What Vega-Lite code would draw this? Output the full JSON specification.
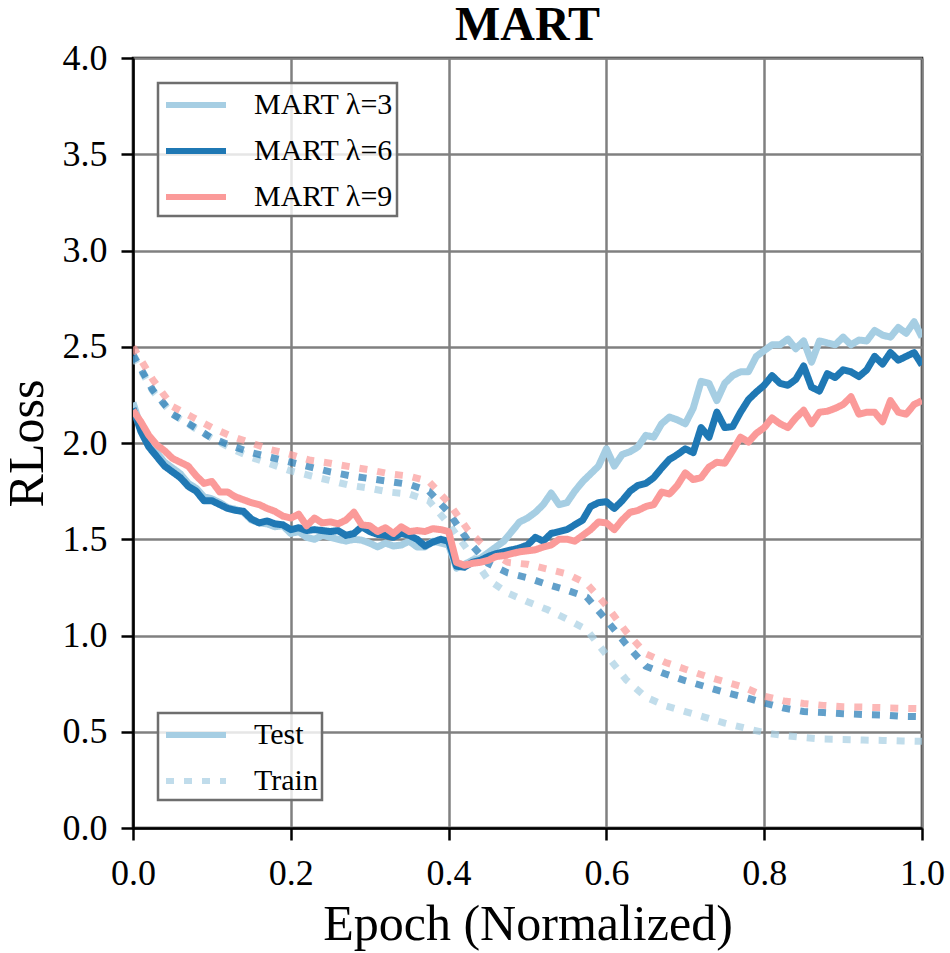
{
  "$schema": "https://vega.github.io/schema/vega-lite/v6.json",
  "width": 789,
  "height": 770,
  "autosize": {"type": "none"},
  "padding": {"left": 133, "top": 58, "right": 28, "bottom": 125},
  "background": "white",
  "config": {
    "font": "Liberation Serif",
    "view": {"stroke": "black", "strokeWidth": 2.5},
    "axis": {
      "domainColor": "black", "domainWidth": 2.5,
      "tickColor": "black", "tickWidth": 2.5, "tickSize": 12,
      "gridColor": "#808080", "gridWidth": 2.5, "gridOpacity": 1,
      "labelFont": "Liberation Serif", "labelFontSize": 36, "labelColor": "black",
      "titleFont": "Liberation Serif", "titleFontSize": 50, "titleFontWeight": "normal", "titleColor": "black"
    },
    "legend": {
      "labelFont": "Liberation Serif", "labelFontSize": 30, "labelColor": "black",
      "symbolType": "M-2,0H2", "symbolSize": 900, "symbolStrokeWidth": 6, "symbolOffset": 16,
      "fillColor": "rgba(255,255,255,0.8)", "strokeColor": "#6e6e6e", "strokeWidth": 2.5,
      "padding": 4, "labelOffset": 40, "rowPadding": 13, "cornerRadius": 0
    }
  },
  "title": {"text": "MART", "fontSize": 48, "fontWeight": "bold", "font": "Liberation Serif", "color": "black", "anchor": "middle", "offset": -10},
  "data": {"values": [
    {"model":"MART λ=3","split":"Train","epoch":0,"loss":2.45},{"model":"MART λ=3","split":"Train","epoch":0.025,"loss":2.27},{"model":"MART λ=3","split":"Train","epoch":0.05,"loss":2.15},{"model":"MART λ=3","split":"Train","epoch":0.075,"loss":2.085},{"model":"MART λ=3","split":"Train","epoch":0.1,"loss":2.025},{"model":"MART λ=3","split":"Train","epoch":0.125,"loss":1.97},{"model":"MART λ=3","split":"Train","epoch":0.15,"loss":1.925},{"model":"MART λ=3","split":"Train","epoch":0.175,"loss":1.89},{"model":"MART λ=3","split":"Train","epoch":0.2,"loss":1.855},{"model":"MART λ=3","split":"Train","epoch":0.225,"loss":1.83},{"model":"MART λ=3","split":"Train","epoch":0.25,"loss":1.805},{"model":"MART λ=3","split":"Train","epoch":0.275,"loss":1.78},{"model":"MART λ=3","split":"Train","epoch":0.3,"loss":1.765},{"model":"MART λ=3","split":"Train","epoch":0.325,"loss":1.745},{"model":"MART λ=3","split":"Train","epoch":0.35,"loss":1.735},{"model":"MART λ=3","split":"Train","epoch":0.375,"loss":1.7},{"model":"MART λ=3","split":"Train","epoch":0.4,"loss":1.58},{"model":"MART λ=3","split":"Train","epoch":0.425,"loss":1.44},{"model":"MART λ=3","split":"Train","epoch":0.45,"loss":1.29},{"model":"MART λ=3","split":"Train","epoch":0.475,"loss":1.22},{"model":"MART λ=3","split":"Train","epoch":0.5,"loss":1.175},{"model":"MART λ=3","split":"Train","epoch":0.525,"loss":1.135},{"model":"MART λ=3","split":"Train","epoch":0.55,"loss":1.085},{"model":"MART λ=3","split":"Train","epoch":0.575,"loss":1.03},{"model":"MART λ=3","split":"Train","epoch":0.6,"loss":0.9},{"model":"MART λ=3","split":"Train","epoch":0.625,"loss":0.77},{"model":"MART λ=3","split":"Train","epoch":0.65,"loss":0.68},{"model":"MART λ=3","split":"Train","epoch":0.675,"loss":0.635},{"model":"MART λ=3","split":"Train","epoch":0.7,"loss":0.605},{"model":"MART λ=3","split":"Train","epoch":0.725,"loss":0.575},{"model":"MART λ=3","split":"Train","epoch":0.75,"loss":0.545},{"model":"MART λ=3","split":"Train","epoch":0.775,"loss":0.52},{"model":"MART λ=3","split":"Train","epoch":0.8,"loss":0.495},{"model":"MART λ=3","split":"Train","epoch":0.825,"loss":0.48},{"model":"MART λ=3","split":"Train","epoch":0.85,"loss":0.47},{"model":"MART λ=3","split":"Train","epoch":0.875,"loss":0.462},{"model":"MART λ=3","split":"Train","epoch":0.9,"loss":0.46},{"model":"MART λ=3","split":"Train","epoch":0.925,"loss":0.457},{"model":"MART λ=3","split":"Train","epoch":0.95,"loss":0.455},{"model":"MART λ=3","split":"Train","epoch":0.975,"loss":0.452},{"model":"MART λ=3","split":"Train","epoch":1,"loss":0.45},
    {"model":"MART λ=6","split":"Train","epoch":0,"loss":2.46},{"model":"MART λ=6","split":"Train","epoch":0.025,"loss":2.275},{"model":"MART λ=6","split":"Train","epoch":0.05,"loss":2.15},{"model":"MART λ=6","split":"Train","epoch":0.075,"loss":2.09},{"model":"MART λ=6","split":"Train","epoch":0.1,"loss":2.025},{"model":"MART λ=6","split":"Train","epoch":0.125,"loss":1.985},{"model":"MART λ=6","split":"Train","epoch":0.15,"loss":1.95},{"model":"MART λ=6","split":"Train","epoch":0.175,"loss":1.925},{"model":"MART λ=6","split":"Train","epoch":0.2,"loss":1.9},{"model":"MART λ=6","split":"Train","epoch":0.225,"loss":1.875},{"model":"MART λ=6","split":"Train","epoch":0.25,"loss":1.85},{"model":"MART λ=6","split":"Train","epoch":0.275,"loss":1.83},{"model":"MART λ=6","split":"Train","epoch":0.3,"loss":1.815},{"model":"MART λ=6","split":"Train","epoch":0.325,"loss":1.8},{"model":"MART λ=6","split":"Train","epoch":0.35,"loss":1.785},{"model":"MART λ=6","split":"Train","epoch":0.375,"loss":1.75},{"model":"MART λ=6","split":"Train","epoch":0.4,"loss":1.64},{"model":"MART λ=6","split":"Train","epoch":0.425,"loss":1.49},{"model":"MART λ=6","split":"Train","epoch":0.45,"loss":1.375},{"model":"MART λ=6","split":"Train","epoch":0.475,"loss":1.325},{"model":"MART λ=6","split":"Train","epoch":0.5,"loss":1.3},{"model":"MART λ=6","split":"Train","epoch":0.525,"loss":1.265},{"model":"MART λ=6","split":"Train","epoch":0.55,"loss":1.235},{"model":"MART λ=6","split":"Train","epoch":0.575,"loss":1.2},{"model":"MART λ=6","split":"Train","epoch":0.6,"loss":1.08},{"model":"MART λ=6","split":"Train","epoch":0.625,"loss":0.955},{"model":"MART λ=6","split":"Train","epoch":0.65,"loss":0.84},{"model":"MART λ=6","split":"Train","epoch":0.675,"loss":0.8},{"model":"MART λ=6","split":"Train","epoch":0.7,"loss":0.765},{"model":"MART λ=6","split":"Train","epoch":0.725,"loss":0.735},{"model":"MART λ=6","split":"Train","epoch":0.75,"loss":0.705},{"model":"MART λ=6","split":"Train","epoch":0.775,"loss":0.68},{"model":"MART λ=6","split":"Train","epoch":0.8,"loss":0.65},{"model":"MART λ=6","split":"Train","epoch":0.825,"loss":0.623},{"model":"MART λ=6","split":"Train","epoch":0.85,"loss":0.605},{"model":"MART λ=6","split":"Train","epoch":0.875,"loss":0.6},{"model":"MART λ=6","split":"Train","epoch":0.9,"loss":0.594},{"model":"MART λ=6","split":"Train","epoch":0.925,"loss":0.59},{"model":"MART λ=6","split":"Train","epoch":0.95,"loss":0.587},{"model":"MART λ=6","split":"Train","epoch":0.975,"loss":0.58},{"model":"MART λ=6","split":"Train","epoch":1,"loss":0.578},
    {"model":"MART λ=9","split":"Train","epoch":0,"loss":2.5},{"model":"MART λ=9","split":"Train","epoch":0.025,"loss":2.33},{"model":"MART λ=9","split":"Train","epoch":0.05,"loss":2.19},{"model":"MART λ=9","split":"Train","epoch":0.075,"loss":2.135},{"model":"MART λ=9","split":"Train","epoch":0.1,"loss":2.08},{"model":"MART λ=9","split":"Train","epoch":0.125,"loss":2.035},{"model":"MART λ=9","split":"Train","epoch":0.15,"loss":2.0},{"model":"MART λ=9","split":"Train","epoch":0.175,"loss":1.965},{"model":"MART λ=9","split":"Train","epoch":0.2,"loss":1.94},{"model":"MART λ=9","split":"Train","epoch":0.225,"loss":1.91},{"model":"MART λ=9","split":"Train","epoch":0.25,"loss":1.895},{"model":"MART λ=9","split":"Train","epoch":0.275,"loss":1.877},{"model":"MART λ=9","split":"Train","epoch":0.3,"loss":1.86},{"model":"MART λ=9","split":"Train","epoch":0.325,"loss":1.84},{"model":"MART λ=9","split":"Train","epoch":0.35,"loss":1.828},{"model":"MART λ=9","split":"Train","epoch":0.375,"loss":1.8},{"model":"MART λ=9","split":"Train","epoch":0.4,"loss":1.69},{"model":"MART λ=9","split":"Train","epoch":0.425,"loss":1.545},{"model":"MART λ=9","split":"Train","epoch":0.45,"loss":1.445},{"model":"MART λ=9","split":"Train","epoch":0.475,"loss":1.38},{"model":"MART λ=9","split":"Train","epoch":0.5,"loss":1.37},{"model":"MART λ=9","split":"Train","epoch":0.525,"loss":1.345},{"model":"MART λ=9","split":"Train","epoch":0.55,"loss":1.32},{"model":"MART λ=9","split":"Train","epoch":0.575,"loss":1.27},{"model":"MART λ=9","split":"Train","epoch":0.6,"loss":1.155},{"model":"MART λ=9","split":"Train","epoch":0.625,"loss":1.02},{"model":"MART λ=9","split":"Train","epoch":0.65,"loss":0.905},{"model":"MART λ=9","split":"Train","epoch":0.675,"loss":0.86},{"model":"MART λ=9","split":"Train","epoch":0.7,"loss":0.825},{"model":"MART λ=9","split":"Train","epoch":0.725,"loss":0.79},{"model":"MART λ=9","split":"Train","epoch":0.75,"loss":0.76},{"model":"MART λ=9","split":"Train","epoch":0.775,"loss":0.73},{"model":"MART λ=9","split":"Train","epoch":0.8,"loss":0.685},{"model":"MART λ=9","split":"Train","epoch":0.825,"loss":0.66},{"model":"MART λ=9","split":"Train","epoch":0.85,"loss":0.647},{"model":"MART λ=9","split":"Train","epoch":0.875,"loss":0.637},{"model":"MART λ=9","split":"Train","epoch":0.9,"loss":0.63},{"model":"MART λ=9","split":"Train","epoch":0.925,"loss":0.628},{"model":"MART λ=9","split":"Train","epoch":0.95,"loss":0.625},{"model":"MART λ=9","split":"Train","epoch":0.975,"loss":0.622},{"model":"MART λ=9","split":"Train","epoch":1,"loss":0.62},
    {"model":"MART λ=3","split":"Test","epoch":0,"loss":2.21},{"model":"MART λ=3","split":"Test","epoch":0.01,"loss":2.08},{"model":"MART λ=3","split":"Test","epoch":0.02,"loss":2.0},{"model":"MART λ=3","split":"Test","epoch":0.03,"loss":1.95},{"model":"MART λ=3","split":"Test","epoch":0.04,"loss":1.9},{"model":"MART λ=3","split":"Test","epoch":0.05,"loss":1.87},{"model":"MART λ=3","split":"Test","epoch":0.06,"loss":1.84},{"model":"MART λ=3","split":"Test","epoch":0.07,"loss":1.79},{"model":"MART λ=3","split":"Test","epoch":0.08,"loss":1.765},{"model":"MART λ=3","split":"Test","epoch":0.09,"loss":1.72},
    {"model":"MART λ=3","split":"Test","epoch":0.1,"loss":1.71},{"model":"MART λ=3","split":"Test","epoch":0.11,"loss":1.69},{"model":"MART λ=3","split":"Test","epoch":0.12,"loss":1.665},{"model":"MART λ=3","split":"Test","epoch":0.13,"loss":1.655},{"model":"MART λ=3","split":"Test","epoch":0.14,"loss":1.64},{"model":"MART λ=3","split":"Test","epoch":0.15,"loss":1.6},{"model":"MART λ=3","split":"Test","epoch":0.16,"loss":1.585},{"model":"MART λ=3","split":"Test","epoch":0.17,"loss":1.58},{"model":"MART λ=3","split":"Test","epoch":0.18,"loss":1.565},{"model":"MART λ=3","split":"Test","epoch":0.19,"loss":1.57},
    {"model":"MART λ=3","split":"Test","epoch":0.2,"loss":1.53},{"model":"MART λ=3","split":"Test","epoch":0.21,"loss":1.54},{"model":"MART λ=3","split":"Test","epoch":0.22,"loss":1.51},{"model":"MART λ=3","split":"Test","epoch":0.23,"loss":1.5},{"model":"MART λ=3","split":"Test","epoch":0.24,"loss":1.52},{"model":"MART λ=3","split":"Test","epoch":0.25,"loss":1.51},{"model":"MART λ=3","split":"Test","epoch":0.26,"loss":1.5},{"model":"MART λ=3","split":"Test","epoch":0.27,"loss":1.49},{"model":"MART λ=3","split":"Test","epoch":0.28,"loss":1.5},{"model":"MART λ=3","split":"Test","epoch":0.29,"loss":1.495},
    {"model":"MART λ=3","split":"Test","epoch":0.3,"loss":1.48},{"model":"MART λ=3","split":"Test","epoch":0.31,"loss":1.46},{"model":"MART λ=3","split":"Test","epoch":0.32,"loss":1.48},{"model":"MART λ=3","split":"Test","epoch":0.33,"loss":1.465},{"model":"MART λ=3","split":"Test","epoch":0.34,"loss":1.47},{"model":"MART λ=3","split":"Test","epoch":0.35,"loss":1.49},{"model":"MART λ=3","split":"Test","epoch":0.36,"loss":1.46},{"model":"MART λ=3","split":"Test","epoch":0.37,"loss":1.46},{"model":"MART λ=3","split":"Test","epoch":0.38,"loss":1.49},{"model":"MART λ=3","split":"Test","epoch":0.39,"loss":1.48},
    {"model":"MART λ=3","split":"Test","epoch":0.4,"loss":1.47},{"model":"MART λ=3","split":"Test","epoch":0.41,"loss":1.35},{"model":"MART λ=3","split":"Test","epoch":0.42,"loss":1.37},{"model":"MART λ=3","split":"Test","epoch":0.43,"loss":1.39},{"model":"MART λ=3","split":"Test","epoch":0.44,"loss":1.4},{"model":"MART λ=3","split":"Test","epoch":0.45,"loss":1.43},{"model":"MART λ=3","split":"Test","epoch":0.46,"loss":1.46},{"model":"MART λ=3","split":"Test","epoch":0.47,"loss":1.49},{"model":"MART λ=3","split":"Test","epoch":0.48,"loss":1.54},{"model":"MART λ=3","split":"Test","epoch":0.49,"loss":1.59},
    {"model":"MART λ=3","split":"Test","epoch":0.5,"loss":1.61},{"model":"MART λ=3","split":"Test","epoch":0.51,"loss":1.64},{"model":"MART λ=3","split":"Test","epoch":0.52,"loss":1.68},{"model":"MART λ=3","split":"Test","epoch":0.53,"loss":1.74},{"model":"MART λ=3","split":"Test","epoch":0.54,"loss":1.68},{"model":"MART λ=3","split":"Test","epoch":0.55,"loss":1.69},{"model":"MART λ=3","split":"Test","epoch":0.56,"loss":1.75},{"model":"MART λ=3","split":"Test","epoch":0.57,"loss":1.8},{"model":"MART λ=3","split":"Test","epoch":0.58,"loss":1.84},{"model":"MART λ=3","split":"Test","epoch":0.59,"loss":1.88},
    {"model":"MART λ=3","split":"Test","epoch":0.6,"loss":1.97},{"model":"MART λ=3","split":"Test","epoch":0.61,"loss":1.88},{"model":"MART λ=3","split":"Test","epoch":0.62,"loss":1.94},{"model":"MART λ=3","split":"Test","epoch":0.63,"loss":1.955},{"model":"MART λ=3","split":"Test","epoch":0.64,"loss":1.98},{"model":"MART λ=3","split":"Test","epoch":0.65,"loss":2.04},{"model":"MART λ=3","split":"Test","epoch":0.66,"loss":2.03},{"model":"MART λ=3","split":"Test","epoch":0.67,"loss":2.1},{"model":"MART λ=3","split":"Test","epoch":0.68,"loss":2.135},{"model":"MART λ=3","split":"Test","epoch":0.69,"loss":2.12},
    {"model":"MART λ=3","split":"Test","epoch":0.7,"loss":2.1},{"model":"MART λ=3","split":"Test","epoch":0.71,"loss":2.18},{"model":"MART λ=3","split":"Test","epoch":0.72,"loss":2.32},{"model":"MART λ=3","split":"Test","epoch":0.73,"loss":2.31},{"model":"MART λ=3","split":"Test","epoch":0.74,"loss":2.22},{"model":"MART λ=3","split":"Test","epoch":0.75,"loss":2.31},{"model":"MART λ=3","split":"Test","epoch":0.76,"loss":2.35},{"model":"MART λ=3","split":"Test","epoch":0.77,"loss":2.37},{"model":"MART λ=3","split":"Test","epoch":0.78,"loss":2.37},{"model":"MART λ=3","split":"Test","epoch":0.79,"loss":2.45},
    {"model":"MART λ=3","split":"Test","epoch":0.8,"loss":2.48},{"model":"MART λ=3","split":"Test","epoch":0.81,"loss":2.51},{"model":"MART λ=3","split":"Test","epoch":0.82,"loss":2.51},{"model":"MART λ=3","split":"Test","epoch":0.83,"loss":2.54},{"model":"MART λ=3","split":"Test","epoch":0.84,"loss":2.49},{"model":"MART λ=3","split":"Test","epoch":0.85,"loss":2.53},{"model":"MART λ=3","split":"Test","epoch":0.86,"loss":2.42},{"model":"MART λ=3","split":"Test","epoch":0.87,"loss":2.53},{"model":"MART λ=3","split":"Test","epoch":0.88,"loss":2.52},{"model":"MART λ=3","split":"Test","epoch":0.89,"loss":2.51},
    {"model":"MART λ=3","split":"Test","epoch":0.9,"loss":2.55},{"model":"MART λ=3","split":"Test","epoch":0.91,"loss":2.51},{"model":"MART λ=3","split":"Test","epoch":0.92,"loss":2.535},{"model":"MART λ=3","split":"Test","epoch":0.93,"loss":2.53},{"model":"MART λ=3","split":"Test","epoch":0.94,"loss":2.585},{"model":"MART λ=3","split":"Test","epoch":0.95,"loss":2.56},{"model":"MART λ=3","split":"Test","epoch":0.96,"loss":2.55},{"model":"MART λ=3","split":"Test","epoch":0.97,"loss":2.6},{"model":"MART λ=3","split":"Test","epoch":0.98,"loss":2.57},{"model":"MART λ=3","split":"Test","epoch":0.99,"loss":2.63},{"model":"MART λ=3","split":"Test","epoch":1,"loss":2.55},
    {"model":"MART λ=6","split":"Test","epoch":0,"loss":2.18},{"model":"MART λ=6","split":"Test","epoch":0.01,"loss":2.06},{"model":"MART λ=6","split":"Test","epoch":0.02,"loss":1.98},{"model":"MART λ=6","split":"Test","epoch":0.03,"loss":1.93},{"model":"MART λ=6","split":"Test","epoch":0.04,"loss":1.88},{"model":"MART λ=6","split":"Test","epoch":0.05,"loss":1.85},{"model":"MART λ=6","split":"Test","epoch":0.06,"loss":1.82},{"model":"MART λ=6","split":"Test","epoch":0.07,"loss":1.775},{"model":"MART λ=6","split":"Test","epoch":0.08,"loss":1.75},{"model":"MART λ=6","split":"Test","epoch":0.09,"loss":1.7},
    {"model":"MART λ=6","split":"Test","epoch":0.1,"loss":1.7},{"model":"MART λ=6","split":"Test","epoch":0.11,"loss":1.68},{"model":"MART λ=6","split":"Test","epoch":0.12,"loss":1.66},{"model":"MART λ=6","split":"Test","epoch":0.13,"loss":1.65},{"model":"MART λ=6","split":"Test","epoch":0.14,"loss":1.645},{"model":"MART λ=6","split":"Test","epoch":0.15,"loss":1.605},{"model":"MART λ=6","split":"Test","epoch":0.16,"loss":1.585},{"model":"MART λ=6","split":"Test","epoch":0.17,"loss":1.595},{"model":"MART λ=6","split":"Test","epoch":0.18,"loss":1.58},{"model":"MART λ=6","split":"Test","epoch":0.19,"loss":1.575},
    {"model":"MART λ=6","split":"Test","epoch":0.2,"loss":1.55},{"model":"MART λ=6","split":"Test","epoch":0.21,"loss":1.56},{"model":"MART λ=6","split":"Test","epoch":0.22,"loss":1.545},{"model":"MART λ=6","split":"Test","epoch":0.23,"loss":1.55},{"model":"MART λ=6","split":"Test","epoch":0.24,"loss":1.545},{"model":"MART λ=6","split":"Test","epoch":0.25,"loss":1.54},{"model":"MART λ=6","split":"Test","epoch":0.26,"loss":1.545},{"model":"MART λ=6","split":"Test","epoch":0.27,"loss":1.52},{"model":"MART λ=6","split":"Test","epoch":0.28,"loss":1.53},{"model":"MART λ=6","split":"Test","epoch":0.29,"loss":1.565},
    {"model":"MART λ=6","split":"Test","epoch":0.3,"loss":1.54},{"model":"MART λ=6","split":"Test","epoch":0.31,"loss":1.525},{"model":"MART λ=6","split":"Test","epoch":0.32,"loss":1.52},{"model":"MART λ=6","split":"Test","epoch":0.33,"loss":1.51},{"model":"MART λ=6","split":"Test","epoch":0.34,"loss":1.53},{"model":"MART λ=6","split":"Test","epoch":0.35,"loss":1.52},{"model":"MART λ=6","split":"Test","epoch":0.36,"loss":1.5},{"model":"MART λ=6","split":"Test","epoch":0.37,"loss":1.465},{"model":"MART λ=6","split":"Test","epoch":0.38,"loss":1.485},{"model":"MART λ=6","split":"Test","epoch":0.39,"loss":1.5},
    {"model":"MART λ=6","split":"Test","epoch":0.4,"loss":1.49},{"model":"MART λ=6","split":"Test","epoch":0.41,"loss":1.36},{"model":"MART λ=6","split":"Test","epoch":0.42,"loss":1.355},{"model":"MART λ=6","split":"Test","epoch":0.43,"loss":1.38},{"model":"MART λ=6","split":"Test","epoch":0.44,"loss":1.39},{"model":"MART λ=6","split":"Test","epoch":0.45,"loss":1.41},{"model":"MART λ=6","split":"Test","epoch":0.46,"loss":1.425},{"model":"MART λ=6","split":"Test","epoch":0.47,"loss":1.435},{"model":"MART λ=6","split":"Test","epoch":0.48,"loss":1.445},{"model":"MART λ=6","split":"Test","epoch":0.49,"loss":1.455},
    {"model":"MART λ=6","split":"Test","epoch":0.5,"loss":1.47},{"model":"MART λ=6","split":"Test","epoch":0.51,"loss":1.51},{"model":"MART λ=6","split":"Test","epoch":0.52,"loss":1.49},{"model":"MART λ=6","split":"Test","epoch":0.53,"loss":1.53},{"model":"MART λ=6","split":"Test","epoch":0.54,"loss":1.54},{"model":"MART λ=6","split":"Test","epoch":0.55,"loss":1.55},{"model":"MART λ=6","split":"Test","epoch":0.56,"loss":1.575},{"model":"MART λ=6","split":"Test","epoch":0.57,"loss":1.6},{"model":"MART λ=6","split":"Test","epoch":0.58,"loss":1.67},{"model":"MART λ=6","split":"Test","epoch":0.59,"loss":1.69},
    {"model":"MART λ=6","split":"Test","epoch":0.6,"loss":1.695},{"model":"MART λ=6","split":"Test","epoch":0.61,"loss":1.66},{"model":"MART λ=6","split":"Test","epoch":0.62,"loss":1.7},{"model":"MART λ=6","split":"Test","epoch":0.63,"loss":1.75},{"model":"MART λ=6","split":"Test","epoch":0.64,"loss":1.78},{"model":"MART λ=6","split":"Test","epoch":0.65,"loss":1.79},{"model":"MART λ=6","split":"Test","epoch":0.66,"loss":1.82},{"model":"MART λ=6","split":"Test","epoch":0.67,"loss":1.87},{"model":"MART λ=6","split":"Test","epoch":0.68,"loss":1.915},{"model":"MART λ=6","split":"Test","epoch":0.69,"loss":1.94},
    {"model":"MART λ=6","split":"Test","epoch":0.7,"loss":1.97},{"model":"MART λ=6","split":"Test","epoch":0.71,"loss":1.95},{"model":"MART λ=6","split":"Test","epoch":0.72,"loss":2.08},{"model":"MART λ=6","split":"Test","epoch":0.73,"loss":2.03},{"model":"MART λ=6","split":"Test","epoch":0.74,"loss":2.16},{"model":"MART λ=6","split":"Test","epoch":0.75,"loss":2.08},{"model":"MART λ=6","split":"Test","epoch":0.76,"loss":2.085},{"model":"MART λ=6","split":"Test","epoch":0.77,"loss":2.16},{"model":"MART λ=6","split":"Test","epoch":0.78,"loss":2.225},{"model":"MART λ=6","split":"Test","epoch":0.79,"loss":2.265},
    {"model":"MART λ=6","split":"Test","epoch":0.8,"loss":2.3},{"model":"MART λ=6","split":"Test","epoch":0.81,"loss":2.35},{"model":"MART λ=6","split":"Test","epoch":0.82,"loss":2.31},{"model":"MART λ=6","split":"Test","epoch":0.83,"loss":2.3},{"model":"MART λ=6","split":"Test","epoch":0.84,"loss":2.33},{"model":"MART λ=6","split":"Test","epoch":0.85,"loss":2.4},{"model":"MART λ=6","split":"Test","epoch":0.86,"loss":2.29},{"model":"MART λ=6","split":"Test","epoch":0.87,"loss":2.27},{"model":"MART λ=6","split":"Test","epoch":0.88,"loss":2.36},{"model":"MART λ=6","split":"Test","epoch":0.89,"loss":2.34},
    {"model":"MART λ=6","split":"Test","epoch":0.9,"loss":2.38},{"model":"MART λ=6","split":"Test","epoch":0.91,"loss":2.37},{"model":"MART λ=6","split":"Test","epoch":0.92,"loss":2.345},{"model":"MART λ=6","split":"Test","epoch":0.93,"loss":2.38},{"model":"MART λ=6","split":"Test","epoch":0.94,"loss":2.45},{"model":"MART λ=6","split":"Test","epoch":0.95,"loss":2.41},{"model":"MART λ=6","split":"Test","epoch":0.96,"loss":2.47},{"model":"MART λ=6","split":"Test","epoch":0.97,"loss":2.43},{"model":"MART λ=6","split":"Test","epoch":0.98,"loss":2.45},{"model":"MART λ=6","split":"Test","epoch":0.99,"loss":2.47},{"model":"MART λ=6","split":"Test","epoch":1,"loss":2.405},
    {"model":"MART λ=9","split":"Test","epoch":0,"loss":2.17},{"model":"MART λ=9","split":"Test","epoch":0.01,"loss":2.11},{"model":"MART λ=9","split":"Test","epoch":0.02,"loss":2.04},{"model":"MART λ=9","split":"Test","epoch":0.03,"loss":1.99},{"model":"MART λ=9","split":"Test","epoch":0.04,"loss":1.96},{"model":"MART λ=9","split":"Test","epoch":0.05,"loss":1.92},{"model":"MART λ=9","split":"Test","epoch":0.06,"loss":1.9},{"model":"MART λ=9","split":"Test","epoch":0.07,"loss":1.88},{"model":"MART λ=9","split":"Test","epoch":0.08,"loss":1.83},{"model":"MART λ=9","split":"Test","epoch":0.09,"loss":1.79},
    {"model":"MART λ=9","split":"Test","epoch":0.1,"loss":1.8},{"model":"MART λ=9","split":"Test","epoch":0.11,"loss":1.745},{"model":"MART λ=9","split":"Test","epoch":0.12,"loss":1.745},{"model":"MART λ=9","split":"Test","epoch":0.13,"loss":1.72},{"model":"MART λ=9","split":"Test","epoch":0.14,"loss":1.705},{"model":"MART λ=9","split":"Test","epoch":0.15,"loss":1.69},{"model":"MART λ=9","split":"Test","epoch":0.16,"loss":1.68},{"model":"MART λ=9","split":"Test","epoch":0.17,"loss":1.66},{"model":"MART λ=9","split":"Test","epoch":0.18,"loss":1.645},{"model":"MART λ=9","split":"Test","epoch":0.19,"loss":1.62},
    {"model":"MART λ=9","split":"Test","epoch":0.2,"loss":1.61},{"model":"MART λ=9","split":"Test","epoch":0.21,"loss":1.63},{"model":"MART λ=9","split":"Test","epoch":0.22,"loss":1.57},{"model":"MART λ=9","split":"Test","epoch":0.23,"loss":1.61},{"model":"MART λ=9","split":"Test","epoch":0.24,"loss":1.585},{"model":"MART λ=9","split":"Test","epoch":0.25,"loss":1.59},{"model":"MART λ=9","split":"Test","epoch":0.26,"loss":1.58},{"model":"MART λ=9","split":"Test","epoch":0.27,"loss":1.6},{"model":"MART λ=9","split":"Test","epoch":0.28,"loss":1.64},{"model":"MART λ=9","split":"Test","epoch":0.29,"loss":1.575},
    {"model":"MART λ=9","split":"Test","epoch":0.3,"loss":1.57},{"model":"MART λ=9","split":"Test","epoch":0.31,"loss":1.54},{"model":"MART λ=9","split":"Test","epoch":0.32,"loss":1.56},{"model":"MART λ=9","split":"Test","epoch":0.33,"loss":1.53},{"model":"MART λ=9","split":"Test","epoch":0.34,"loss":1.565},{"model":"MART λ=9","split":"Test","epoch":0.35,"loss":1.54},{"model":"MART λ=9","split":"Test","epoch":0.36,"loss":1.545},{"model":"MART λ=9","split":"Test","epoch":0.37,"loss":1.54},{"model":"MART λ=9","split":"Test","epoch":0.38,"loss":1.555},{"model":"MART λ=9","split":"Test","epoch":0.39,"loss":1.55},
    {"model":"MART λ=9","split":"Test","epoch":0.4,"loss":1.54},{"model":"MART λ=9","split":"Test","epoch":0.41,"loss":1.38},{"model":"MART λ=9","split":"Test","epoch":0.42,"loss":1.365},{"model":"MART λ=9","split":"Test","epoch":0.43,"loss":1.375},{"model":"MART λ=9","split":"Test","epoch":0.44,"loss":1.38},{"model":"MART λ=9","split":"Test","epoch":0.45,"loss":1.39},{"model":"MART λ=9","split":"Test","epoch":0.46,"loss":1.41},{"model":"MART λ=9","split":"Test","epoch":0.47,"loss":1.415},{"model":"MART λ=9","split":"Test","epoch":0.48,"loss":1.425},{"model":"MART λ=9","split":"Test","epoch":0.49,"loss":1.435},
    {"model":"MART λ=9","split":"Test","epoch":0.5,"loss":1.44},{"model":"MART λ=9","split":"Test","epoch":0.51,"loss":1.445},{"model":"MART λ=9","split":"Test","epoch":0.52,"loss":1.46},{"model":"MART λ=9","split":"Test","epoch":0.53,"loss":1.47},{"model":"MART λ=9","split":"Test","epoch":0.54,"loss":1.5},{"model":"MART λ=9","split":"Test","epoch":0.55,"loss":1.5},{"model":"MART λ=9","split":"Test","epoch":0.56,"loss":1.49},{"model":"MART λ=9","split":"Test","epoch":0.57,"loss":1.52},{"model":"MART λ=9","split":"Test","epoch":0.58,"loss":1.55},{"model":"MART λ=9","split":"Test","epoch":0.59,"loss":1.59},
    {"model":"MART λ=9","split":"Test","epoch":0.6,"loss":1.585},{"model":"MART λ=9","split":"Test","epoch":0.61,"loss":1.55},{"model":"MART λ=9","split":"Test","epoch":0.62,"loss":1.6},{"model":"MART λ=9","split":"Test","epoch":0.63,"loss":1.64},{"model":"MART λ=9","split":"Test","epoch":0.64,"loss":1.65},{"model":"MART λ=9","split":"Test","epoch":0.65,"loss":1.67},{"model":"MART λ=9","split":"Test","epoch":0.66,"loss":1.68},{"model":"MART λ=9","split":"Test","epoch":0.67,"loss":1.745},{"model":"MART λ=9","split":"Test","epoch":0.68,"loss":1.735},{"model":"MART λ=9","split":"Test","epoch":0.69,"loss":1.78},
    {"model":"MART λ=9","split":"Test","epoch":0.7,"loss":1.845},{"model":"MART λ=9","split":"Test","epoch":0.71,"loss":1.81},{"model":"MART λ=9","split":"Test","epoch":0.72,"loss":1.82},{"model":"MART λ=9","split":"Test","epoch":0.73,"loss":1.875},{"model":"MART λ=9","split":"Test","epoch":0.74,"loss":1.9},{"model":"MART λ=9","split":"Test","epoch":0.75,"loss":1.895},{"model":"MART λ=9","split":"Test","epoch":0.76,"loss":1.96},{"model":"MART λ=9","split":"Test","epoch":0.77,"loss":2.03},{"model":"MART λ=9","split":"Test","epoch":0.78,"loss":2.005},{"model":"MART λ=9","split":"Test","epoch":0.79,"loss":2.05},
    {"model":"MART λ=9","split":"Test","epoch":0.8,"loss":2.08},{"model":"MART λ=9","split":"Test","epoch":0.81,"loss":2.13},{"model":"MART λ=9","split":"Test","epoch":0.82,"loss":2.1},{"model":"MART λ=9","split":"Test","epoch":0.83,"loss":2.08},{"model":"MART λ=9","split":"Test","epoch":0.84,"loss":2.13},{"model":"MART λ=9","split":"Test","epoch":0.85,"loss":2.17},{"model":"MART λ=9","split":"Test","epoch":0.86,"loss":2.1},{"model":"MART λ=9","split":"Test","epoch":0.87,"loss":2.16},{"model":"MART λ=9","split":"Test","epoch":0.88,"loss":2.165},{"model":"MART λ=9","split":"Test","epoch":0.89,"loss":2.18},
    {"model":"MART λ=9","split":"Test","epoch":0.9,"loss":2.2},{"model":"MART λ=9","split":"Test","epoch":0.91,"loss":2.24},{"model":"MART λ=9","split":"Test","epoch":0.92,"loss":2.15},{"model":"MART λ=9","split":"Test","epoch":0.93,"loss":2.16},{"model":"MART λ=9","split":"Test","epoch":0.94,"loss":2.16},{"model":"MART λ=9","split":"Test","epoch":0.95,"loss":2.11},{"model":"MART λ=9","split":"Test","epoch":0.96,"loss":2.22},{"model":"MART λ=9","split":"Test","epoch":0.97,"loss":2.16},{"model":"MART λ=9","split":"Test","epoch":0.98,"loss":2.15},{"model":"MART λ=9","split":"Test","epoch":0.99,"loss":2.2},{"model":"MART λ=9","split":"Test","epoch":1,"loss":2.22}
  ]},
  "mark": {"type": "line", "strokeWidth": 7, "strokeCap": "butt", "strokeJoin": "round", "clip": true},
  "encoding": {
    "x": {
      "field": "epoch", "type": "quantitative",
      "scale": {"domain": [0, 1], "nice": false},
      "axis": {"title": "Epoch (Normalized)", "values": [0, 0.2, 0.4, 0.6, 0.8, 1], "format": ".1f", "labelPadding": 16, "titlePadding": 8, "labelFlush": false}
    },
    "y": {
      "field": "loss", "type": "quantitative",
      "scale": {"domain": [0, 4], "nice": false},
      "axis": {"title": "RLoss", "values": [0, 0.5, 1, 1.5, 2, 2.5, 3, 3.5, 4], "format": ".1f", "labelPadding": 14, "titlePadding": 10}
    },
    "color": {
      "field": "model", "type": "nominal",
      "scale": {"domain": ["MART λ=3", "MART λ=6", "MART λ=9"], "range": ["#a6cee3", "#1f78b4", "#fb9a99"]},
      "legend": {"title": null, "orient": "none", "legendX": 25, "legendY": 25}
    },
    "strokeDash": {
      "field": "split", "type": "nominal",
      "scale": {"domain": ["Test", "Train"], "range": [[1, 0], [8, 10]]},
      "legend": {"title": null, "orient": "none", "legendX": 25, "legendY": 655, "symbolStrokeColor": "#a6cee3"}
    },
    "opacity": {
      "field": "split", "type": "nominal",
      "scale": {"domain": ["Test", "Train"], "range": [1, 0.7]},
      "legend": {"title": null, "orient": "none", "legendX": 25, "legendY": 655, "symbolStrokeColor": "#a6cee3"}
    }
  }
}
